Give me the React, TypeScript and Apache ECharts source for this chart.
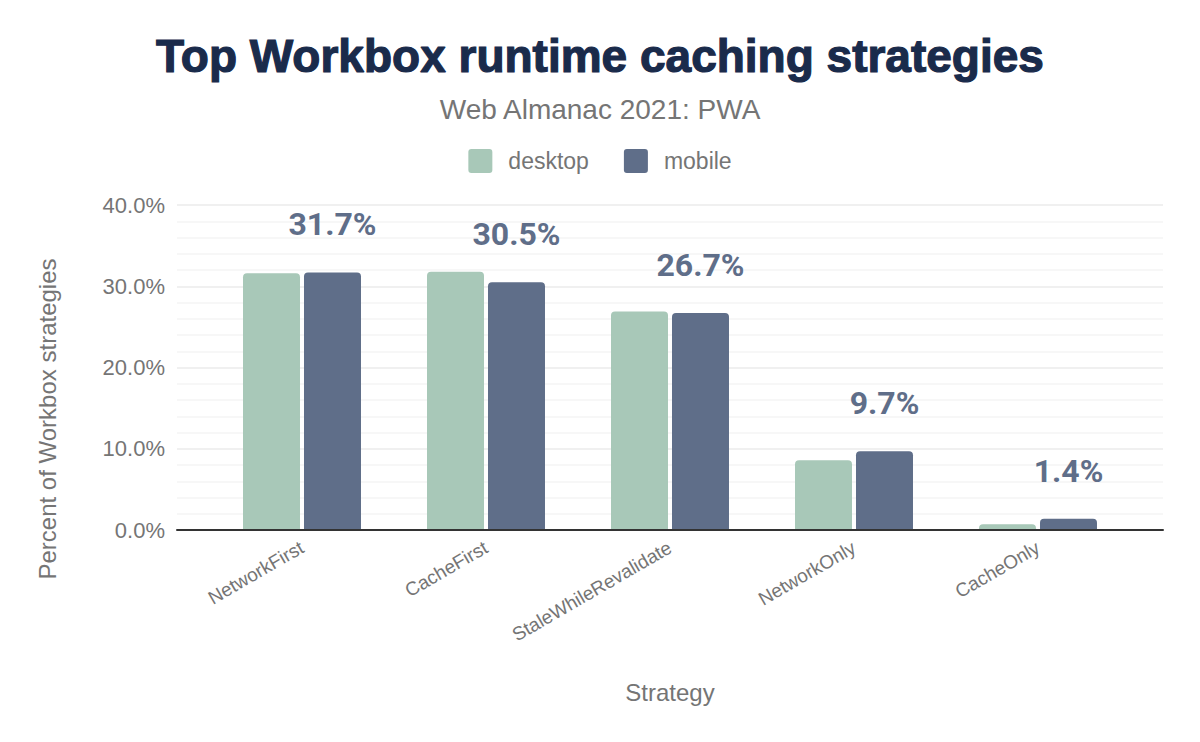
import React, { useEffect, useRef } from "react";
import * as echarts from "echarts";

const categories = ["NetworkFirst", "CacheFirst", "StaleWhileRevalidate", "NetworkOnly", "CacheOnly"];
const desktopValues = [31.6, 31.8, 26.9, 8.6, 0.7];
const mobileValues = [31.7, 30.5, 26.7, 9.7, 1.4];
const yTicks = [0, 10, 20, 30, 40];

const GRAY = "#757575";
const FONT = "Liberation Sans";
const LEGEND_ICON = "path://M3,0H21A3,3,0,0,1,24,3V21A3,3,0,0,1,21,24H3A3,3,0,0,1,0,21V3A3,3,0,0,1,3,0Z";

export default function App() {
  const ref = useRef<HTMLDivElement>(null);
  useEffect(() => {
    if (!ref.current) return;
    const chart = echarts.init(ref.current, null, { renderer: "svg" });
    const yMin = yTicks[0];
    const yMax = yTicks[yTicks.length - 1];
    chart.setOption({
      animation: false,
      backgroundColor: "#ffffff",
      title: [
        {
          text: "Top Workbox runtime caching strategies",
          left: "center",
          top: 28,
          textStyle: {
            fontFamily: FONT,
            fontWeight: "bold",
            fontSize: 46,
            color: "#1a2b4b",
            textBorderColor: "#1a2b4b",
            textBorderWidth: 1.2,
          },
        },
        {
          text: "Web Almanac 2021: PWA",
          left: "center",
          top: 90,
          textStyle: { fontFamily: FONT, fontWeight: "normal", fontSize: 28, color: GRAY },
        },
      ],
      legend: {
        top: 144,
        left: "center",
        itemWidth: 24,
        itemHeight: 24,
        itemGap: 35,
        icon: LEGEND_ICON,
        textStyle: { fontFamily: FONT, fontSize: 23, color: GRAY, padding: [0, 0, 0, 11] },
        data: ["desktop", "mobile"],
      },
      grid: [
        { left: 177, right: 37, top: 205, bottom: 212, containLabel: false },
        { left: 210, right: 70, top: 205, bottom: 212, containLabel: false },
      ],
      xAxis: [
        {
          gridIndex: 0,
          type: "value",
          min: 0,
          max: 1,
          axisLine: { show: true, lineStyle: { color: "#333333", width: 2 } },
          axisTick: { show: false },
          axisLabel: { show: false },
          splitLine: { show: false },
          z: 5,
        },
        {
          gridIndex: 1,
          type: "category",
          data: categories,
          name: "Strategy",
          nameLocation: "middle",
          nameGap: 150,
          nameTextStyle: { fontFamily: FONT, fontSize: 24, color: GRAY },
          axisLine: { show: false },
          axisTick: { show: false },
          axisLabel: {
            rotate: 30,
            margin: 16,
            fontFamily: FONT,
            fontSize: 19,
            color: GRAY,
          },
        },
      ],
      yAxis: [
        {
          gridIndex: 0,
          type: "value",
          min: yMin,
          max: yMax,
          interval: 10,
          axisLine: { show: false },
          axisTick: { show: false },
          axisLabel: {
            margin: 12,
            fontFamily: FONT,
            fontSize: 22,
            color: GRAY,
            formatter: (v: number) => v.toFixed(1) + "%",
          },
          splitLine: { lineStyle: { color: "#ebebeb", width: 1.5 } },
          minorTick: { show: false, splitNumber: 5 },
          minorSplitLine: { show: true, lineStyle: { color: "#f5f5f5", width: 1.5 } },
        },
        {
          gridIndex: 1,
          type: "value",
          min: yMin,
          max: yMax,
          show: false,
          splitLine: { show: false },
        },
      ],
      graphic: [
        {
          type: "text",
          x: 47,
          y: 419,
          rotation: Math.PI / 2,
          style: {
            text: "Percent of Workbox strategies",
            fontFamily: FONT,
            fontSize: 24,
            fill: GRAY,
            textAlign: "center",
            textVerticalAlign: "middle",
          },
        },
      ],
      series: [
        {
          name: "desktop",
          type: "bar",
          xAxisIndex: 1,
          yAxisIndex: 1,
          data: desktopValues,
          barWidth: 57,
          barGap: "7%",
          itemStyle: { color: "#a8c8b8", borderRadius: [4, 4, 0, 0] },
        },
        {
          name: "mobile",
          type: "bar",
          xAxisIndex: 1,
          yAxisIndex: 1,
          data: mobileValues,
          barWidth: 57,
          barGap: "7%",
          itemStyle: { color: "#5f6e89", borderRadius: [4, 4, 0, 0] },
          label: {
            show: true,
            position: "top",
            distance: 32,
            fontFamily: "Roboto",
            fontWeight: "bold",
            fontSize: 32,
            color: "#5f6e89",
            formatter: (p: any) => p.value.toFixed(1) + "%",
          },
        },
      ],
    });
    return () => chart.dispose();
  }, []);
  return <div ref={ref} style={{ width: 1200, height: 742, margin: -8 }} />;
}
